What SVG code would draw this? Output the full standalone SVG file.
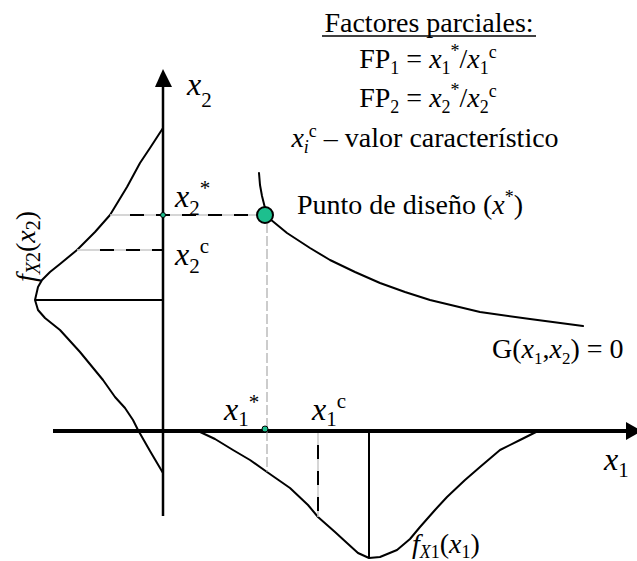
<svg xmlns="http://www.w3.org/2000/svg" width="637" height="561" viewBox="0 0 637 561">
<style>
text{font-family:"Liberation Serif","Times New Roman",serif;font-size:28px;fill:#000}
.i{font-style:italic}
.n{font-style:normal}
.s{font-size:18px}
.v{font-size:32px;font-style:italic}
.vs{font-size:21px;font-style:normal}
.ax{stroke:#000;fill:none}
.curve{stroke:#000;fill:none;stroke-width:2;stroke-linejoin:round;stroke-linecap:round}
.dg{stroke:#c8c8c8;stroke-width:1.5;fill:none}
.db{stroke:#000;stroke-width:2;stroke-dasharray:14 12;fill:none}
.pt{fill:#1dbf8e;stroke:#000}
</style>
<g id="axes">
<line class="ax" x1="163" y1="516" x2="163" y2="84" stroke-width="2.5"/>
<polygon points="163,69 155,87 172,87" fill="#000"/>
<line class="ax" x1="53" y1="431" x2="628" y2="431" stroke-width="4"/>
<polygon points="642,431 626,422 626,440" fill="#000"/>
<text x="187" y="95" class="v">x<tspan class="vs" dy="12">2</tspan></text>
<text x="604" y="470" class="v">x<tspan class="vs" dy="7">1</tspan></text>
</g>
<g id="density-x2">
<path class="curve" d="M163,128 L150,148 L140,163 L127,187 L110,215 L95,232 L77,250 L60,264 L50,272 L42,280 L38,287 L35,300 L38,310 L45,318 L60,330 L80,352 L103,380 L115,397 L125,408 L133,420 L138,430 L150,451 L163,473"/>
<line x1="35" y1="300" x2="163" y2="300" stroke="#000" stroke-width="2"/>
<text transform="translate(35,282) rotate(-90)" class="i" font-size="30">f<tspan font-size="20" dy="5">X</tspan><tspan font-size="20" class="n">2</tspan><tspan dy="-5" class="n">(</tspan>x<tspan font-size="20" dy="5" class="n">2</tspan><tspan dy="-5" class="n">)</tspan></text>
</g>
<g id="density-x1">
<path class="curve" d="M198,431 L215,439 L233,450 L250,460 L267,472 L290,488 L308,505 L318,517 L335,532 L347,543 L358,553 L369,558 L380,557 L397,550 L410,539 L420,527 L435,510 L447,497 L465,480 L480,467 L500,450 L520,440 L538,431"/>
<line x1="369" y1="431" x2="369" y2="558" stroke="#000" stroke-width="2"/>
<text x="412" y="553" class="i">f<tspan class="s" dy="5">X</tspan><tspan class="s n">1</tspan><tspan dy="-5" class="n">(</tspan>x<tspan class="s n" dy="5">1</tspan><tspan dy="-5" class="n">)</tspan></text>
</g>
<g id="connectors">
<line class="dg" x1="110" y1="215" x2="258" y2="215"/>
<line class="db" x1="130" y1="215" x2="258" y2="215"/>
<line class="dg" x1="77" y1="250" x2="163" y2="250"/>
<line class="db" x1="100" y1="250" x2="163" y2="250"/>
<line class="dg" x1="318" y1="433" x2="318" y2="517"/>
<line class="db" x1="318" y1="445" x2="318" y2="517"/>
<line x1="267" y1="223" x2="267" y2="472" stroke="#999" stroke-width="1" stroke-dasharray="10 3"/>
</g>
<g id="limit-state">
<path class="curve" stroke-width="2.6" d="M259,173 L260,185 L262,196 L265,208 L270,219 L287,233 L310,248 L330,260 L355,272 L380,283 L405,292 L430,300 L455,306 L480,312 L530,319 L583,326"/>
<text x="492" y="358" font-size="25">G(<tspan class="i">x</tspan><tspan font-size="17" dy="6">1</tspan><tspan dy="-6">,</tspan><tspan class="i">x</tspan><tspan font-size="17" dy="6">2</tspan><tspan dy="-6">) = 0</tspan></text>
</g>
<g id="design-point">
<circle class="pt" cx="265" cy="215" r="8" stroke-width="2"/>
<text x="297" y="214" font-size="28.5">Punto de diseño (<tspan class="i">x</tspan><tspan class="s" dy="-11">*</tspan><tspan dy="11">)</tspan></text>
</g>
<g id="x2-marks">
<circle class="pt" cx="163" cy="215" r="2.5" stroke-width="1"/>
<text x="175" y="207" class="v">x<tspan class="vs" dy="8">2</tspan><tspan class="vs" dy="-20">*</tspan></text>
<text x="175" y="265" class="v">x<tspan class="vs" dy="8">2</tspan><tspan class="vs" dy="-20">c</tspan></text>
</g>
<g id="x1-marks">
<circle class="pt" cx="265" cy="429" r="3" stroke-width="1"/>
<text x="224" y="420" class="v">x<tspan class="vs" dy="6">1</tspan><tspan class="vs" dy="-17">*</tspan></text>
<text x="312" y="420" class="v">x<tspan class="vs" dy="6">1</tspan><tspan class="vs" dy="-18">c</tspan></text>
</g>
<g id="legend">
<text x="429" y="32" text-anchor="middle">Factores parciales:</text>
<line x1="322" y1="36" x2="536" y2="36" stroke="#000" stroke-width="1.5"/>
<text x="428" y="68" text-anchor="middle">FP<tspan class="s" dy="6">1</tspan><tspan dy="-6"> = </tspan><tspan class="i">x</tspan><tspan class="s" dy="6">1</tspan><tspan class="s" dy="-17">*</tspan><tspan dy="11">/</tspan><tspan class="i">x</tspan><tspan class="s" dy="6">1</tspan><tspan class="s" dy="-16">c</tspan></text>
<text x="428" y="107" text-anchor="middle">FP<tspan class="s" dy="6">2</tspan><tspan dy="-6"> = </tspan><tspan class="i">x</tspan><tspan class="s" dy="6">2</tspan><tspan class="s" dy="-17">*</tspan><tspan dy="11">/</tspan><tspan class="i">x</tspan><tspan class="s" dy="6">2</tspan><tspan class="s" dy="-16">c</tspan></text>
<text x="425" y="147" text-anchor="middle"><tspan class="i">x</tspan><tspan class="s i" dy="6">i</tspan><tspan class="s" dy="-16">c</tspan><tspan dy="10"> – valor característico</tspan></text>
</g>
</svg>
